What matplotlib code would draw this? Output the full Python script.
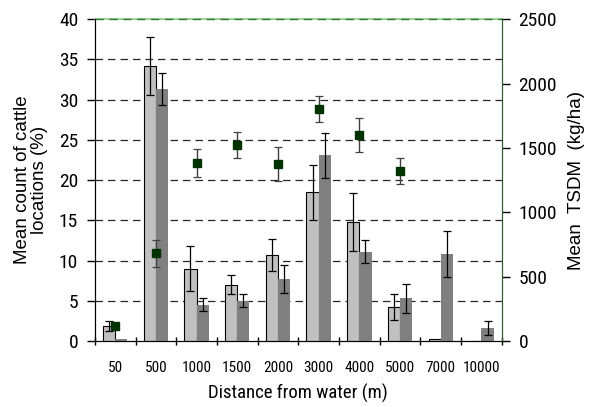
import matplotlib
matplotlib.use("Agg")
import matplotlib.pyplot as plt
import numpy as np

categories = ["50", "500", "1000", "1500", "2000", "3000", "4000", "5000", "7000", "10000"]
light_vals = [1.9, 34.2, 9.0, 7.0, 10.7, 18.5, 14.8, 4.2, 0.2, 0.0]
light_err = [0.6, 3.6, 2.8, 1.2, 2.0, 3.4, 3.6, 1.6, 0.0, 0.0]
dark_vals = [0.2, 31.3, 4.5, 5.0, 7.7, 23.1, 11.1, 5.3, 10.8, 1.6]
dark_err = [0.0, 2.0, 0.8, 0.8, 1.7, 2.8, 1.4, 1.8, 2.9, 0.9]
tsdm_vals = [116, 683, 1384, 1522, 1374, 1804, 1599, 1322, np.nan, np.nan]
tsdm_err = [0, 105, 108, 100, 130, 100, 130, 100, 0, 0]

NARROW = ["Roboto Condensed", "Liberation Sans", "DejaVu Sans"]
REG = ["Liberation Sans", "DejaVu Sans"]

fig = plt.figure(figsize=(5.89, 4.07), dpi=100)
ax = fig.add_axes([0.161, 0.162, 0.691, 0.791])
x = np.arange(len(categories))
w = 0.3

ax.bar(x - w/2, light_vals, w, color="#c0c0c0", edgecolor="black", linewidth=0.8, zorder=3)
ax.bar(x + w/2, dark_vals, w, color="#808080", edgecolor="none", zorder=3)
ax.errorbar(x - w/2, light_vals, yerr=[e if e > 0 else np.nan for e in light_err],
            fmt="none", ecolor="black", elinewidth=0.9, capsize=3, capthick=0.9, zorder=4)
ax.errorbar(x + w/2, dark_vals, yerr=[e if e > 0 else np.nan for e in dark_err],
            fmt="none", ecolor="black", elinewidth=0.9, capsize=3, capthick=0.9, zorder=4)

ax.set_ylim(0, 40)
ax.set_xlim(-0.5, len(categories) - 0.5)
ax.set_yticks(range(0, 41, 5))
for yv in range(5, 40, 5):
    ax.axhline(yv, color="black", linestyle=(0, (6, 4)), linewidth=0.9, zorder=1, alpha=0.85)
ax.axhline(40, color="#2e7d2e", linestyle=(0, (6, 4)), linewidth=1.0, zorder=5, clip_on=False)

ax.set_xticks(x)
ax.set_xticklabels(categories, fontsize=11, family=NARROW)
ax.tick_params(axis="x", which="major", length=0, pad=14)
ax.set_xticks(np.arange(-0.5, len(categories), 1.0), minor=True)
ax.tick_params(axis="x", which="minor", length=6, direction="inout", width=1)
ax.tick_params(axis="y", length=6, width=1, labelsize=14, direction="out", pad=6)
for lbl in ax.get_yticklabels():
    lbl.set_family(NARROW)

ax.spines["top"].set_color("#8cc88c")
ax.spines["top"].set_linewidth(1.2)
ax.spines["right"].set_color("#2e5e2e")
ax.spines["left"].set_color("black")
ax.spines["bottom"].set_color("black")

ax.set_xlabel("Distance from water (m)", fontsize=13.5, family=NARROW, labelpad=7)
ax.set_ylabel("Mean count of cattle\nlocations (%)", fontsize=13.5,
              family=REG, labelpad=8, linespacing=0.95)

ax2 = ax.twinx()
ax2.set_ylim(0, 2500)
ax2.set_yticks(range(0, 2501, 500))
ax2.tick_params(axis="y", length=6, width=1, labelsize=14, direction="out", pad=6)
for lbl in ax2.get_yticklabels():
    lbl.set_family(NARROW)
ax2.spines["right"].set_color("#2e5e2e")
ax2.spines["top"].set_visible(False)
ax2.errorbar(x, tsdm_vals, yerr=[e if e > 0 else np.nan for e in tsdm_err], fmt="s",
             color="#003300", markersize=6, ecolor="#404040", elinewidth=1.0,
             capsize=3, capthick=0.9, zorder=5)
ax2.set_ylabel("Mean  TSDM  (kg/ha)", fontsize=13.5, family=REG, labelpad=8)

fig.savefig("out.png", dpi=100)
